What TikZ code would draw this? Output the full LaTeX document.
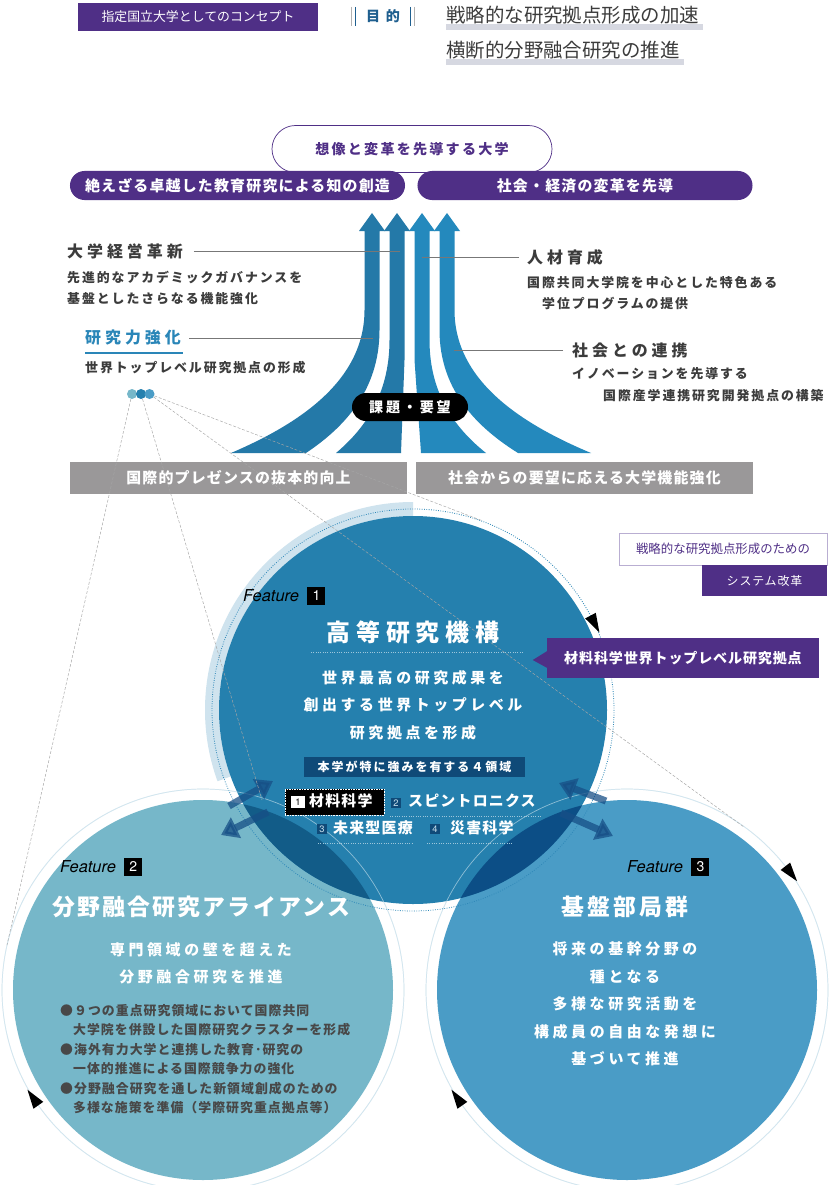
\documentclass[tikz,border=0pt]{standalone}
\usepackage{fontspec}
\setmainfont{Noto Sans CJK JP}
\newfontfamily\featurefont{TeX Gyre Heros}
\usetikzlibrary{arrows.meta,positioning,calc,shapes.misc}
\definecolor{ConceptPurple}{HTML}{4F2F86}
\definecolor{FrameLavender}{HTML}{B9AED2}
\definecolor{TextGray}{HTML}{3C3C3C}
\definecolor{BulletGray}{HTML}{484848}
\definecolor{MarkGray}{HTML}{D6D8E1}
\definecolor{BoxGray}{HTML}{9A9899}
\definecolor{LeaderGray}{HTML}{777777}
\definecolor{PurposeBlue}{HTML}{1F5F8F}
\definecolor{LabelBlue}{HTML}{2A86B8}
\definecolor{ShaftDark}{HTML}{2479A8}
\definecolor{ShaftLight}{HTML}{2489BD}
\definecolor{CoreBlue}{HTML}{2580AE}
\definecolor{CoreBand}{HTML}{CFE3EE}
\definecolor{CoreRing}{HTML}{2F88B8}
\definecolor{AllianceTeal}{HTML}{76B7C9}
\definecolor{BaseBlue}{HTML}{4A9CC6}
\definecolor{RingLine}{HTML}{D2E6EF}
\definecolor{DeepNavy}{HTML}{0F4A78}
\definecolor{MixTeal}{HTML}{125C88}
\definecolor{MixBlue}{HTML}{0C4E86}
\definecolor{SwapNavy}{HTML}{174F86}

\newcommand{\ls}[1]{\addfontfeature{LetterSpace=#1}}

\tikzset{
  every node/.style={inner sep=0pt},
  conceptbox/.style={fill=ConceptPurple, text=white, minimum width=7.2cm, minimum height=0.84cm,
    font=\fontsize{11}{13}\selectfont},
  purpose/.style={text=PurposeBlue, font=\fontsize{12}{14}\selectfont\bfseries\ls{40}},
  goal/.style={text=TextGray, font=\fontsize{16.6}{19}\selectfont},
  visionbox/.style={rounded rectangle, draw=ConceptPurple, line width=0.6pt, fill=white,
    minimum width=8.4cm, minimum height=1.41cm, text=ConceptPurple,
    font=\fontsize{12}{14}\selectfont\bfseries\ls{16}},
  pill/.style={rounded rectangle, fill=ConceptPurple, text=white, minimum width=10.05cm,
    minimum height=0.87cm, font=\fontsize{12.75}{15}\selectfont\bfseries\ls{8}},
  head/.style={text=TextGray, font=\fontsize{13.6}{16}\selectfont\bfseries\ls{25}},
  desc/.style={text=TextGray, align=left, font=\fontsize{11}{17.8}\selectfont\bfseries\ls{15}},
  leader/.style={LeaderGray, line width=0.7pt},
  issue/.style={rounded rectangle, fill=black, text=white, minimum width=3.48cm,
    minimum height=0.84cm, font=\fontsize{12}{14}\selectfont\bfseries\ls{20}},
  graybox/.style={fill=BoxGray, text=white, minimum width=10.11cm, minimum height=0.96cm,
    font=\fontsize{12.75}{15}\selectfont\bfseries\ls{8}},
  dot/.style={circle, minimum size=0.3cm},
  zoomline/.style={gray!70, line width=0.4pt, dash pattern=on 2.5pt off 1.5pt},
  feature/.style={text=black, font=\featurefont\itshape\fontsize{14}{16}\selectfont},
  featnum/.style={fill=black, text=white, minimum size=0.54cm, font=\featurefont\fontsize{12}{14}\selectfont},
  ctitle/.style={text=white, font=\fontsize{19.5}{23}\selectfont\bfseries\ls{10}},
  cbody/.style={text=white, align=center, font=\fontsize{12.75}{23.5}\selectfont\bfseries\ls{24}},
  navylabel/.style={fill=DeepNavy, text=white, minimum width=6.63cm, minimum height=0.6cm,
    font=\fontsize{10.2}{12}\selectfont\bfseries\ls{17}},
  field/.style={text=white, font=\fontsize{12.75}{15}\selectfont\bfseries\ls{8}},
  numnavy/.style={fill=DeepNavy, text=white!75!CoreBlue, minimum size=0.32cm,
    font=\featurefont\fontsize{8}{9}\selectfont},
  fielddots/.style={white!55!CoreBlue, line width=0.6pt, dash pattern=on 0.6pt off 1.4pt},
  swap/.style={SwapNavy, opacity=0.75, line width=0.21cm, -{Triangle[length=0.5cm,width=0.66cm]}},
  bullets/.style={text=BulletGray, align=left, font=\fontsize{11}{16.6}\selectfont\bfseries\ls{8}},
  sysframe/.style={draw=FrameLavender, line width=0.6pt, fill=white, text=ConceptPurple,
    minimum width=6.24cm, minimum height=0.96cm, font=\fontsize{10.6}{13}\selectfont},
  sysfill/.style={fill=ConceptPurple, text=white, minimum width=3.75cm, minimum height=0.93cm,
    font=\fontsize{10.2}{12}\selectfont\ls{7}},
  callout/.style={fill=ConceptPurple, text=white, minimum width=8.16cm, minimum height=1.2cm,
    font=\fontsize{12}{14}\selectfont\bfseries\ls{6}}
}

\begin{document}
\begin{tikzpicture}[x=0.03cm,y=-0.03cm]
  \useasboundingbox (0,0) rectangle (830,1185);
  \fill[white] (0,0) rectangle (830,1185);

  % header
  \node[conceptbox] (concept) at (198,17) {指定国立大学としてのコンセプト};
  \node[purpose] (purpose) at (383,16) {目的};
  \draw[gray!60, line width=0.6pt] (351,7) -- (351,26);
  \draw[PurposeBlue, line width=0.8pt] (355,7) -- (355,26);
  \draw[PurposeBlue, line width=0.8pt] (410,7) -- (410,26);
  \draw[gray!60, line width=0.6pt] (414,7) -- (414,26);
  \fill[MarkGray] (446,24) rectangle (703,30);
  \node[goal, anchor=west] (goal1) at (446,15) {戦略的な研究拠点形成の加速};
  \fill[MarkGray] (446,59) rectangle (684,65);
  \node[goal, anchor=west] (goal2) at (446,50) {横断的分野融合研究の推進};

  % vision
  \node[visionbox] (vision) at (412,149) {想像と変革を先導する大学};
  \node[pill] (pillL) at (237.5,185.5) {絶えざる卓越した教育研究による知の創造};
  \node[pill] (pillR) at (585,185.5) {社会・経済の変革を先導};

  % four rising shafts
  \fill[ShaftDark] (372,213) -- (385,231) -- (379.5,231) -- (379.5,330)
    .. controls (379.5,391.5) and (342.75,428.4) .. (306,453) -- (231,453)
    .. controls (297.75,424.4) and (364.5,381.5) .. (364.5,310) -- (364.5,231) -- (359,231) -- cycle;
  \fill[ShaftDark] (397,213) -- (410,231) -- (404.5,231) -- (404.5,360) -- (401,453) -- (336,453)
    .. controls (362.75,430.4) and (389.5,396.5) .. (389.5,340) -- (389.5,231) -- (384,231) -- cycle;
  \fill[ShaftLight] (422,213) -- (435,231) -- (429.5,231) -- (429.5,340)
    .. controls (429.5,396.5) and (457.75,430.4) .. (486,453) -- (421,453) -- (414.5,360)
    -- (414.5,231) -- (409,231) -- cycle;
  \fill[ShaftLight] (447,213) -- (460,231) -- (454.5,231) -- (454.5,310)
    .. controls (454.5,381.5) and (522.75,424.4) .. (591,453) -- (518,453)
    .. controls (478.75,428.4) and (439.5,391.5) .. (439.5,330) -- (439.5,231) -- (434,231) -- cycle;
  \coordinate (shaftB) at (400,251);
  \coordinate (shaftC) at (422,257);
  \coordinate (shaftA) at (373,338);
  \coordinate (shaftD) at (454,350);

  % side labels
  \node[head, anchor=west] (mgmt) at (67,251) {大学経営革新};
  \node[desc, anchor=north west] (mgmtD) at (67,271) {先進的なアカデミックガバナンスを\\基盤としたさらなる機能強化};
  \draw[leader, shorten <=0.33cm] (mgmt) -- (shaftB);
  \node[head, anchor=west] (people) at (527,257) {人材育成};
  \node[desc, anchor=north west] (peopleD) at (527,276) {国際共同大学院を中心とした特色ある\\\hspace*{0.45cm}学位プログラムの提供};
  \draw[leader, shorten <=0.24cm] (people) -- (shaftC);
  \node[head, anchor=west, text=LabelBlue] (research) at (85,338) {研究力強化};
  \draw[LabelBlue, line width=1.4pt] ($(research.south west)+(0,7)$) -- ($(research.south east)+(2,7)$);
  \node[desc, anchor=north west] (researchD) at (85,361) {世界トップレベル研究拠点の形成};
  \draw[leader, shorten <=0.24cm] (research) -- (shaftA);
  \node[head, anchor=west] (society) at (572,350) {社会との連携};
  \node[desc, anchor=north west, font=\fontsize{11}{18.7}\selectfont\bfseries\ls{15}] (societyD) at (572,367) {イノベーションを先導する\\\hspace*{0.93cm}国際産学連携研究開発拠点の構築};
  \draw[leader, shorten <=0.27cm] (society) -- (shaftD);

  \node[issue] (issue) at (410,407) {課題・要望};
  \node[graybox] (needL) at (238.5,478) {国際的プレゼンスの抜本的向上};
  \node[graybox] (needR) at (584.5,478) {社会からの要望に応える大学機能強化};

  % circles
  \coordinate (c1) at (413,710);
  \coordinate (c2) at (203,990);
  \coordinate (c3) at (627,990);
  \fill[white, draw=RingLine, line width=0.6pt] (c2) circle (201);
  \fill[AllianceTeal] (c2) circle (190);
  \fill[white, draw=RingLine, line width=0.6pt] (c3) circle (201);
  \fill[BaseBlue] (c3) circle (190);
  \begin{scope}
    \clip (c1) -- (37,847) -- (0,300) -- (413,300) -- cycle;
    \fill[CoreBand, even odd rule] (c1) circle (208) (c1) circle (194);
  \end{scope}
  \fill[CoreBlue] (c1) circle (194);
  \begin{scope}
    \clip (c1) circle (194);
    \fill[MixTeal] (c2) circle (190);
    \fill[MixBlue] (c3) circle (190);
  \end{scope}
  \draw[CoreRing, line width=0.7pt, dash pattern=on 0.7pt off 1.3pt] (c1) circle (201);
  \draw[RingLine, line width=0.6pt, opacity=0.6] (c2) circle (201) (c3) circle (201);

  % ring direction marks
  \fill ($(c1)+(-28:207)$) -- ($(c1)+(-28:195)$) -- ($(c1)+(-28:201)+(62:19)$) -- cycle;
  \fill ($(c3)+(-38:207)$) -- ($(c3)+(-38:195)$) -- ($(c3)+(-38:201)+(52:19)$) -- cycle;
  \fill ($(c3)+(145:207)$) -- ($(c3)+(145:195)$) -- ($(c3)+(145:201)+(235:19)$) -- cycle;
  \fill ($(c2)+(145:207)$) -- ($(c2)+(145:195)$) -- ($(c2)+(145:201)+(235:19)$) -- cycle;

  % exchange arrows
  \draw[swap] (229,806) -- (273,781);
  \draw[swap] (268,812) -- (221,835);
  \draw[swap] (606,801) -- (559,783);
  \draw[swap] (561,813) -- (613,836);

  % zoom lines from the dots
  \node[dot, fill=AllianceTeal] (dotA) at (132,394) {};
  \node[dot, fill=CoreBlue] (dotB) at (141,394) {};
  \node[dot, fill=BaseBlue] (dotC) at (149.5,394) {};
  \coordinate (tanA) at (7,945);
  \coordinate (tanB) at (262,800);
  \coordinate (tanC) at (483,521);
  \coordinate (tanD) at (744,827);
  \draw[zoomline] (dotA) -- (tanA);
  \draw[zoomline] (dotB) -- (tanB);
  \draw[zoomline] (dotC) -- (tanC);
  \draw[zoomline] (dotC) -- (tanD);

  % feature 1
  \node[feature, anchor=west] (feat1) at (243,596) {Feature};
  \node[featnum, right=0.24cm of feat1] (num1) {1};
  \node[ctitle, font=\fontsize{20.4}{24}\selectfont\bfseries\ls{25}] (core) at (413,632) {高等研究機構};
  \draw[fielddots] (311,652) -- (523,652);
  \node[cbody] (coreD) at (413,705) {世界最高の研究成果を\\創出する世界トップレベル\\研究拠点を形成};
  \node[navylabel] (four) at (414.5,767) {本学が特に強みを有する４領域};
  \node[fill=black, draw=white, densely dotted, minimum width=2.97cm, minimum height=0.78cm] (fld1) at (334.5,802) {};
  \node[fill=white, text=black, minimum width=0.4cm, minimum height=0.36cm, font=\featurefont\fontsize{8}{9}\selectfont] (n1) at (298,802) {1};
  \node[field, anchor=west] (f1) at (309,801) {材料科学};
  \node[numnavy] (n2) at (396,803) {2};
  \node[field, anchor=west] (f2) at (408,801) {スピントロニクス};
  \draw[fielddots] (390,816) -- (542,816);
  \node[numnavy] (n3) at (322,829) {3};
  \node[field, anchor=west] (f3) at (333,828) {未来型医療};
  \draw[fielddots] (318,843) -- (412,843);
  \node[numnavy] (n4) at (435,829) {4};
  \node[field, anchor=west] (f4) at (450,828) {災害科学};
  \draw[fielddots] (427,843) -- (513,843);

  % right side boxes
  \node[sysframe] (sys1) at (723,549) {戦略的な研究拠点形成のための};
  \node[sysfill] (sys2) at (764.5,580.5) {システム改革};
  \node[callout] (flag) at (683,658) {材料科学世界トップレベル研究拠点};
  \fill[ConceptPurple] ($(flag.west)+(0.5,-7)$) -- ($(flag.west)+(-14,2)$) -- ($(flag.west)+(0.5,10)$) -- cycle;

  % feature 2
  \node[feature, anchor=west] (feat2) at (60,867) {Feature};
  \node[featnum, right=0.24cm of feat2] (num2) {2};
  \node[ctitle] (alliance) at (201,907) {分野融合研究アライアンス};
  \node[cbody] (allianceD) at (201,963.5) {専門領域の壁を超えた\\分野融合研究を推進};
  \node[bullets, anchor=north west] (allianceB) at (60,1004) {●９つの重点研究領域において国際共同\\
    \hspace*{1em}大学院を併設した国際研究クラスターを形成\\
    ●海外有力大学と連携した教育･研究の\\
    \hspace*{1em}一体的推進による国際競争力の強化\\
    ●分野融合研究を通した新領域創成のための\\
    \hspace*{1em}多様な施策を準備（学際研究重点拠点等）};

  % feature 3
  \node[feature, anchor=west] (feat3) at (627,867) {Feature};
  \node[featnum, right=0.24cm of feat3] (num3) {3};
  \node[ctitle, font=\fontsize{19.5}{23}\selectfont\bfseries\ls{13}] (base) at (625,907) {基盤部局群};
  \node[cbody] (baseD) at (625,1004) {将来の基幹分野の\\種となる\\多様な研究活動を\\構成員の自由な発想に\\基づいて推進};
\end{tikzpicture}
\end{document}
